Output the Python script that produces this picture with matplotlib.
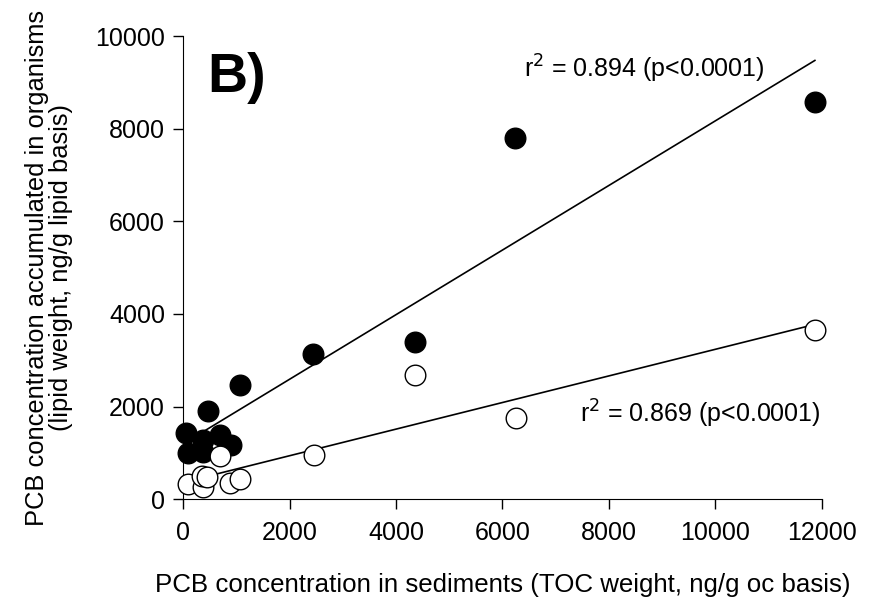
import numpy as np
import matplotlib
matplotlib.use("Agg")
import matplotlib.pyplot as plt

plt.rcParams['font.family'] = ['Liberation Sans', 'DejaVu Sans']

# lipid weight (filled) and open circles
sed_filled = [57, 94, 377, 377, 472, 698, 906, 1075, 2434, 4358, 6226, 11868]
org_filled = [1425, 994, 1015, 1274, 1900, 1382, 1166, 2462, 3131, 3391, 7797, 8574]

sed_open = [94, 377, 360, 453, 698, 887, 1075, 2453, 4358, 6245, 11868]
org_open = [324, 259, 500, 475, 929, 346, 432, 950, 2678, 1750, 3650]

xticks = [0, 2000, 4000, 6000, 8000, 10000, 12000]
yticks = [0, 2000, 4000, 6000, 8000, 10000]

fig = plt.figure(figsize=(8.8, 6), dpi=100)
ax = fig.add_axes([0.208, 0.168, 0.726, 0.772])

def fit_line(x, y):
    k, b = np.polyfit(x, y, 1)
    xs = np.array([min(x), max(x)])
    return xs, k * xs + b

xs, ys = fit_line(sed_filled, org_filled)
ax.plot(xs, ys, color='black', lw=1.2, zorder=2)
xs, ys = fit_line(sed_open, org_open)
ax.plot(xs, ys, color='black', lw=1.2, zorder=2)

ax.scatter(sed_filled, org_filled, s=220, c='black', edgecolors='black',
           linewidths=1, zorder=3, clip_on=False)
ax.scatter(sed_open, org_open, s=220, facecolors='white', edgecolors='black',
           linewidths=1, zorder=3, clip_on=False)

ax.set_xlim(0, 12000)
ax.set_ylim(0, 10000)
ax.set_xticks(xticks)
ax.set_yticks(yticks)
ax.tick_params(labelsize=18, direction='out', length=7, width=1, pad=6)
ax.tick_params(axis='x', pad=9)
for s in ['top', 'right']:
    ax.spines[s].set_visible(False)

ax.set_xlabel('PCB concentration in sediments (TOC weight, ng/g oc basis)',
              fontsize=18.6, labelpad=20)
ax.set_ylabel('PCB concentration accumulated in organisms\n(lipid weight, ng/g lipid basis)',
              fontsize=18.4, labelpad=16, linespacing=1.0)

ax.text(450, 9100, 'B)', fontsize=40, fontweight='bold', va='center')
ax.text(6400, 9300, r'r$^2$ = 0.894 (p<0.0001)', fontsize=18, va='center')
ax.text(7450, 1850, r'r$^2$ = 0.869 (p<0.0001)', fontsize=18, va='center')

fig.savefig('out.png', dpi=100)
